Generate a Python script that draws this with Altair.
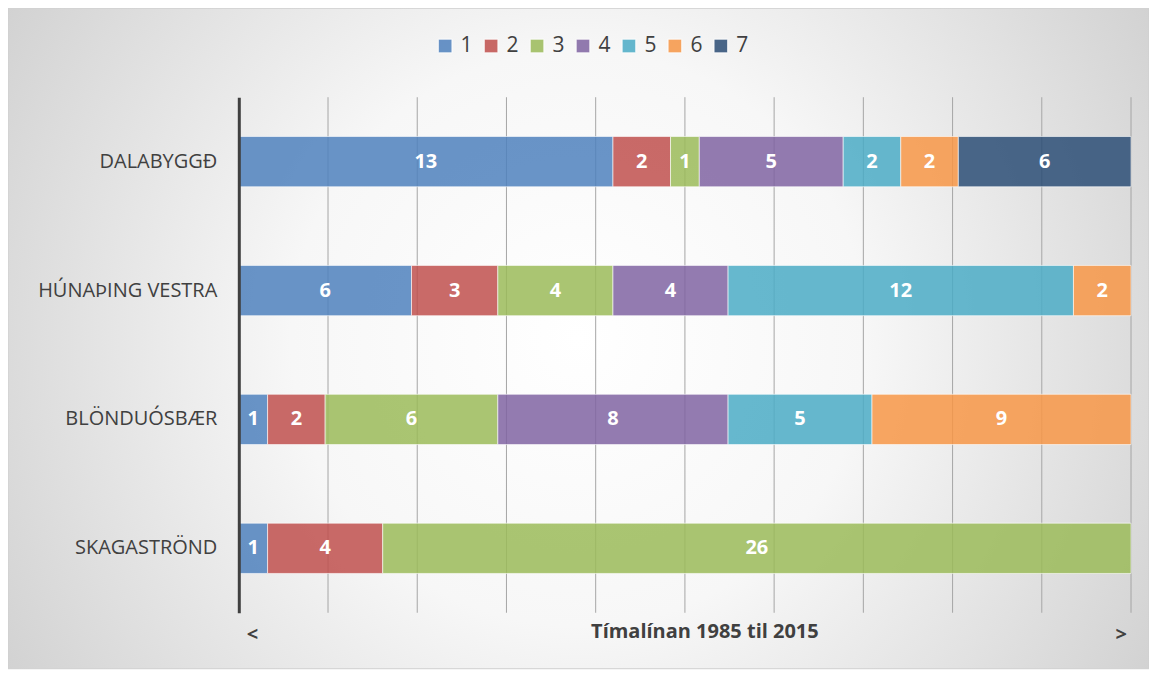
import altair as alt
import pandas as pd

categories = ["DALABYGGÐ", "HÚNAÞING VESTRA", "BLÖNDUÓSBÆR", "SKAGASTRÖND"]
series = ["1", "2", "3", "4", "5", "6", "7"]
values = {
    "DALABYGGÐ": [13, 2, 1, 5, 2, 2, 6],
    "HÚNAÞING VESTRA": [6, 3, 4, 4, 12, 2, 0],
    "BLÖNDUÓSBÆR": [1, 2, 6, 8, 5, 9, 0],
    "SKAGASTRÖND": [1, 4, 26, 0, 0, 0, 0],
}
colors = ["#4f81bd", "#c0504d", "#9bbb59", "#8064a2", "#4bacc6", "#f79646", "#2c4d75"]
grid_values = [3.1, 6.2, 9.3, 12.4, 15.5, 18.6, 21.7, 24.8, 27.9, 31]
x_title = "Tímalínan 1985 til 2015"
arrow_left = [{"x": 0, "t": "<"}]
arrow_right = [{"x": 31, "t": ">"}]

rows = []
for c in categories:
    for i, s in enumerate(series):
        v = values[c][i]
        if v > 0:
            rows.append({"cat": c, "s": s, "idx": i, "v": v})
df = pd.DataFrame(rows)

W, H = 893, 516
FONT = "Open Sans"

xscale = alt.Scale(domain=[0, 31], nice=False, zero=False)
x_axis = alt.Axis(
    grid=False, domain=False, ticks=False, labels=False, zindex=1,
    titleFont=FONT, titleFontSize=20, titleFontWeight="bold",
    titleColor="#404040", titlePadding=9, titleX=466,
)

bg = alt.Chart(pd.DataFrame({"a": [0]})).mark_rect(
    color=alt.Gradient(
        gradient="radial",
        stops=[
            alt.GradientStop(offset=0, color="#ffffff"),
            alt.GradientStop(offset=0.35, color="#f7f7f7"),
            alt.GradientStop(offset=1, color="#c2c2c2"),
        ],
        x1=0.5, y1=0.5, r1=0, x2=0.5, y2=0.5, r2=0.72,
    ),
    stroke="#cfcfcf",
    strokeWidth=1,
).encode(
    x=alt.value(-231), x2=alt.value(W + 18),
    y=alt.value(-89), y2=alt.value(H + 56),
)

grid = alt.Chart(pd.DataFrame({"g": grid_values})).mark_rule(
    color="#a6a6a6", strokeWidth=1
).encode(
    x=alt.X("g:Q", scale=xscale, title=x_title, axis=x_axis),
)

base = alt.Chart(df).transform_window(
    cum="sum(v)", sort=[alt.SortField("idx")], groupby=["cat"], frame=[None, 0]
).transform_calculate(
    start="datum.cum - datum.v", mid="datum.cum - datum.v / 2"
)

y_enc = alt.Y(
    "cat:N", sort=categories, title=None,
    scale=alt.Scale(paddingInner=0.61, paddingOuter=0.305),
    axis=alt.Axis(
        domain=True, domainColor="#404040", domainWidth=3, ticks=False,
        labelFont=FONT, labelFontSize=20, labelColor="#404040", labelPadding=22,
        grid=False, zindex=1,
    ),
)

bars = base.mark_bar(
    fillOpacity=0.85, stroke="#ffffff", strokeOpacity=0.6, strokeWidth=1
).encode(
    x=alt.X("start:Q", scale=xscale, title=x_title, axis=x_axis),
    x2="cum:Q",
    y=y_enc,
    color=alt.Color(
        "s:N", scale=alt.Scale(domain=series, range=colors), title=None,
        legend=alt.Legend(
            orient="none", legendX=196, legendY=-62, direction="horizontal",
            symbolType="square", symbolSize=190, symbolOpacity=0.85,
            symbolStrokeColor="#ffffff", symbolStrokeWidth=1,
            labelFont=FONT, labelFontSize=21, labelColor="#404040",
            labelOffset=5, columnPadding=7, zindex=1,
        ),
    ),
)

labels = base.mark_text(
    font=FONT, fontSize=20, fontWeight="bold", color="#ffffff"
).encode(
    x=alt.X("mid:Q", scale=xscale, title=x_title),
    y=alt.Y("cat:N", sort=categories),
    text="v:Q",
)

left_arrow = alt.Chart(pd.DataFrame(arrow_left)).mark_text(
    font=FONT, fontSize=20, fontWeight="bold", color="#404040", align="left", dx=8
).encode(
    x=alt.X("x:Q", scale=xscale, title=x_title),
    y=alt.value(H + 22),
    text="t:N",
)
right_arrow = alt.Chart(pd.DataFrame(arrow_right)).mark_text(
    font=FONT, fontSize=20, fontWeight="bold", color="#404040", align="right", dx=-4
).encode(
    x=alt.X("x:Q", scale=xscale, title=x_title),
    y=alt.value(H + 22),
    text="t:N",
)

chart = alt.layer(bg, grid, bars, labels, left_arrow, right_arrow).properties(
    width=W, height=H,
    autosize=alt.AutoSizeParams(type="none"),
    padding={"left": 231, "top": 89, "right": 18, "bottom": 57},
    background="#ffffff",
).configure_view(stroke=None)

chart.save("out.html", embed_options={"renderer": "svg", "actions": False})
